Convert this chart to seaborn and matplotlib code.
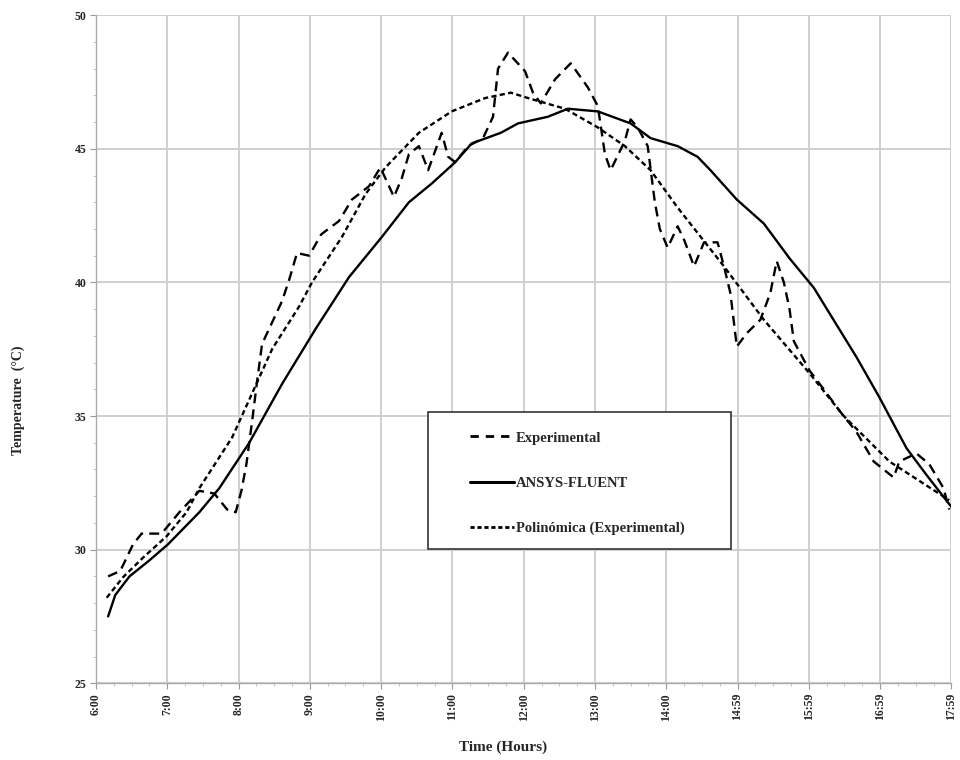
import numpy as np
import pandas as pd
import matplotlib
matplotlib.use("Agg")
import matplotlib.pyplot as plt
from matplotlib.patches import Rectangle
from matplotlib.lines import Line2D
import seaborn as sns

# ---------------- data (decimal hours, °C) ----------------
exp_time = [6.17, 6.34, 6.52, 6.64, 6.92, 7.17, 7.45, 7.66, 7.84, 7.96, 8.04, 8.11,
            8.19, 8.26, 8.33, 8.61, 8.71, 8.82, 8.99, 9.16, 9.41, 9.59, 9.83, 9.99,
            10.18, 10.29, 10.39, 10.53, 10.66, 10.85, 10.94, 11.04, 11.22, 11.43,
            11.57, 11.64, 11.78, 12.02, 12.13, 12.24, 12.44, 12.66, 12.90, 13.04,
            13.14, 13.22, 13.42, 13.50, 13.60, 13.74, 13.84, 13.91, 14.02, 14.16,
            14.25, 14.39, 14.53, 14.72, 14.81, 14.90, 14.99, 15.13, 15.32, 15.46,
            15.55, 15.65, 15.73, 15.79, 16.01, 16.21, 16.43, 16.67, 16.91, 17.19,
            17.27, 17.51, 17.69, 17.89, 17.97]
exp_temp = [29.0, 29.2, 30.2, 30.6, 30.6, 31.4, 32.2, 32.1, 31.5, 31.4, 32.2, 33.2,
            34.8, 36.3, 37.7, 39.3, 40.1, 41.1, 41.0, 41.8, 42.3, 43.1, 43.6, 44.3,
            43.2, 43.9, 44.8, 45.1, 44.2, 45.6, 44.7, 44.5, 45.1, 45.4,
            46.2, 48.0, 48.6, 47.9, 47.1, 46.7, 47.6, 48.2, 47.3, 46.6,
            44.8, 44.2, 45.3, 46.1, 45.8, 45.1, 43.0, 42.0, 41.3, 42.1,
            41.6, 40.6, 41.5, 41.5, 40.6, 39.6, 37.6, 38.1, 38.6, 39.6,
            40.8, 40.0, 39.0, 37.8, 36.7, 36.0, 35.2, 34.4, 33.3, 32.7,
            33.3, 33.6, 33.2, 32.3, 31.5]

fluent_time = [6.17, 6.27, 6.47, 6.75, 7.01, 7.45, 7.73, 8.15, 8.61, 9.09, 9.55,
               10.01, 10.39, 10.71, 11.04, 11.27, 11.68, 11.92, 12.34, 12.62, 13.04,
               13.50, 13.78, 14.16, 14.44, 14.62, 14.99, 15.37, 15.73, 16.07, 16.67,
               16.99, 17.37, 17.65, 18.0]
fluent_temp = [27.5, 28.3, 29.0, 29.6, 30.2, 31.4, 32.3, 34.0, 36.2, 38.3, 40.2,
               41.7, 43.0, 43.7, 44.5, 45.2, 45.6, 45.95, 46.2, 46.5, 46.4,
               45.95, 45.4, 45.1, 44.7, 44.2, 43.1, 42.2, 40.9, 39.8, 37.2,
               35.7, 33.8, 32.8, 31.6]

poly_time = [6.15, 6.38, 6.66, 6.99, 7.27, 7.45, 7.91, 8.47, 8.85, 9.03, 9.45, 9.78,
             10.06, 10.53, 10.99, 11.46, 11.82, 12.06, 12.58, 13.04, 13.42, 13.78,
             14.16, 14.81, 15.37, 16.01, 16.49, 17.13, 17.97]
poly_temp = [28.2, 28.97, 29.7, 30.5, 31.4, 32.3, 34.2, 37.5, 39.1, 40.0, 41.7, 43.3,
             44.3, 45.6, 46.4, 46.9, 47.1, 46.9, 46.5, 45.8, 45.1, 44.2,
             42.8, 40.6, 38.6, 36.6, 35.0, 33.3, 31.85]

series_names = ["Experimental", "ANSYS-FLUENT", "Polinómica (Experimental)"]
x_ticks = [6, 7, 8, 9, 10, 11, 12, 13, 14, 15, 16, 17, 18]
x_tick_labels = ["6:00", "7:00", "8:00", "9:00", "10:00", "11:00", "12:00", "13:00",
                 "14:00", "14:59", "15:59", "16:59", "17:59"]
y_ticks = [25, 30, 35, 40, 45, 50]

# ---------------- build table ----------------
df = pd.concat([
    pd.DataFrame({"Time": exp_time, "Temp": exp_temp, "Series": series_names[0]}),
    pd.DataFrame({"Time": fluent_time, "Temp": fluent_temp, "Series": series_names[1]}),
    pd.DataFrame({"Time": poly_time, "Temp": poly_temp, "Series": series_names[2]}),
], ignore_index=True)

sns.set_theme(style="white")
plt.rcParams["font.family"] = ["Liberation Serif", "DejaVu Serif"]

fig = plt.figure(figsize=(9.6, 7.6), dpi=100)
ax = fig.add_axes([0.1, 0.101, 0.891, 0.879])

dash_map = {series_names[0]: (4.2, 2.6), series_names[1]: "", series_names[2]: (2.2, 1.4)}
for name in series_names:
    sub = df[df["Series"] == name]
    sns.lineplot(data=sub, x="Time", y="Temp", ax=ax, color="black", lw=1.7,
                 estimator=None, sort=False, legend=False)
    line = ax.lines[-1]
    if dash_map[name]:
        line.set_dashes(dash_map[name])

ax.set_xlim(6, 18)
ax.set_ylim(25, 50)
ax.set_xticks(x_ticks)
ax.set_xticklabels(x_tick_labels, rotation=90, fontsize=8.5, fontweight="bold")
ax.set_yticks(y_ticks)
ax.set_yticklabels([str(v) for v in y_ticks], fontsize=8.5, fontweight="bold")
ax.set_xticks(np.arange(6, 18.01, 0.25), minor=True)
ax.set_yticks(np.arange(25, 50.01, 1), minor=True)
ax.tick_params(axis="both", which="major", length=4, width=0.8, color="#999999",
               direction="out", pad=3, bottom=True, left=True)
ax.tick_params(axis="both", which="minor", length=2, width=0.6, color="#bbbbbb",
               direction="out", bottom=True, left=True)
ax.grid(True, which="major", color="#cfcfcf", lw=1.4)
for s in ["top", "right"]:
    ax.spines[s].set_visible(False)
for s in ["left", "bottom"]:
    ax.spines[s].set_color("#aaaaaa")
    ax.spines[s].set_linewidth(1.0)

ax.set_xlabel("Time (Hours)", fontsize=11, fontweight="bold")
ax.xaxis.set_label_coords(0.476, -0.086)
ax.set_ylabel("Temperature  (°C)", fontsize=10, fontweight="bold")
ax.yaxis.set_label_coords(-0.083, 0.424)

# legend box frame and entries
ax.add_patch(Rectangle((0.388, 0.2006), 0.354, 0.205, transform=ax.transAxes,
                       facecolor="white", edgecolor="#333333", lw=1.2, zorder=5))
handles = [Line2D([], [], color="black", lw=2.0, dashes=(3, 2.5)),
           Line2D([], [], color="black", lw=2.2),
           Line2D([], [], color="black", lw=2.0, dashes=(1.5, 1.0))]
leg = ax.legend(handles, series_names, loc="upper left",
                bbox_to_anchor=(0.429, 0.388), frameon=False,
                prop={"weight": "bold", "size": 10.5}, handlelength=3.0,
                handletextpad=0.15, labelspacing=2.2, borderpad=0.0)
leg.set_zorder(6)

fig.savefig("out.png", dpi=100)
